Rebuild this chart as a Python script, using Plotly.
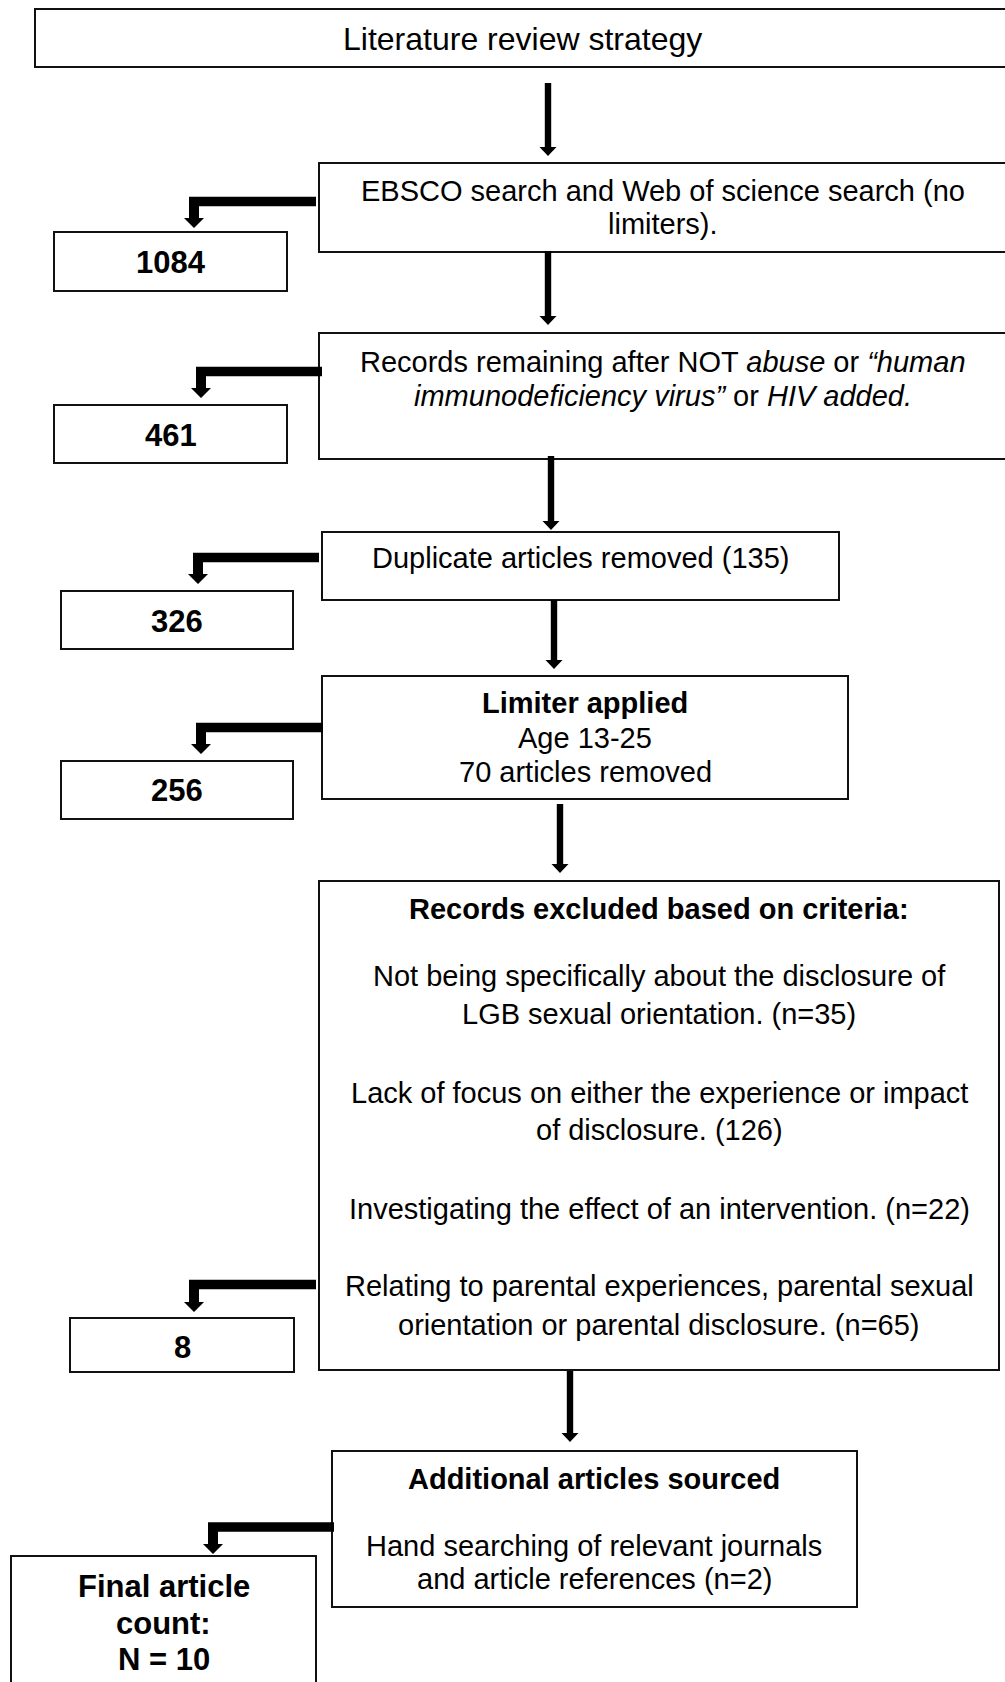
import plotly.graph_objects as go

# ---------------- data (text content and counts) ----------------
title_text = "Literature review strategy"
search_lines = ["EBSCO search and Web of science search (no", "limiters)."]
filter_lines = ["Records remaining after NOT <i>abuse</i> or <i>\u201chuman</i>",
                "<i>immunodeficiency virus\u201d</i> or <i>HIV added.</i>"]
duplicate_lines = ["Duplicate articles removed (135)"]
limiter_lines = ["<b>Limiter applied</b>", "Age 13-25", "70 articles removed"]
criteria_lines = ["<b>Records excluded based on criteria:</b>",
                  "Not being specifically about the disclosure of",
                  "LGB sexual orientation. (n=35)",
                  "Lack of focus on either the experience or impact",
                  "of disclosure. (126)",
                  "Investigating the effect of an intervention. (n=22)",
                  "Relating to parental experiences, parental sexual",
                  "orientation or parental disclosure. (n=65)"]
additional_lines = ["<b>Additional articles sourced</b>",
                    "Hand searching of relevant journals",
                    "and article references (n=2)"]
final_lines = ["<b>Final article</b>", "<b>count:</b>", "<b>N = 10</b>"]
remaining_counts = [1084, 461, 326, 256, 8]

# ---------------- layout geometry (pixels, y downward) ----------------
W, H = 1005, 1682
FONT = "Liberation Sans, Arial, sans-serif"

# main boxes: x0, y0, x1, y1
main_boxes = [
    (35, 9, 1012, 67),
    (319, 163, 1007, 252),
    (319, 333, 1007, 459),
    (322, 532, 839, 600),
    (322, 676, 848, 799),
    (319, 881, 999, 1370),
    (332, 1451, 857, 1607),
    (11, 1556, 316, 1695),
]
# count boxes (left column)
count_boxes = [
    (54, 232, 287, 291),
    (54, 405, 287, 463),
    (61, 591, 293, 649),
    (61, 761, 293, 819),
    (70, 1318, 294, 1372),
]
count_cap_centers = [262, 435, 621, 790, 1347]

# text blocks: (lines, centre x, baselines, font size)
text_blocks = [
    ([title_text], 522, [50], 32),
    (search_lines, 663, [201, 234], 29),
    (filter_lines, 663, [372, 406], 29),
    (duplicate_lines, 580, [568], 29),
    (limiter_lines, 585, [713, 748, 782], 29),
    (criteria_lines, 659, [919, 986, 1024, 1103, 1140, 1219, 1296, 1335], 29),
    (additional_lines, 594, [1489, 1556, 1589], 29),
    (final_lines, 163.5, [1597, 1634, 1670], 31),
]

# vertical arrows: x, y_start, y_tip
down_arrows = [
    (548, 83, 156),
    (548, 251, 325),
    (551, 456, 530),
    (554, 600, 669),
    (560, 804, 873),
    (570, 1371, 1442),
]
# elbow arrows: x_start (box edge), y_centre of bar, x of drop, y_tip
elbow_arrows = [
    (316, 201.5, 194, 228),
    (322, 371.5, 201, 398),
    (319, 557.5, 198, 584),
    (323, 727.5, 201, 754),
    (316, 1284.5, 194, 1312),
    (334, 1527, 213, 1554),
]

shapes = []
for (x0, y0, x1, y1) in main_boxes + count_boxes:
    shapes.append(dict(type="rect", xref="x", yref="y", x0=x0, y0=y0, x1=x1, y1=y1,
                       line=dict(color="#111111", width=2), fillcolor="rgba(0,0,0,0)",
                       layer="above"))

SH = 3.2   # half shaft width
HH = 8.5   # half head width
HL = 9     # head length
for (x, ys, yt) in down_arrows:
    p = (f"M{x-SH},{ys} L{x+SH},{ys} L{x+SH},{yt-HL} L{x+HH},{yt-HL} L{x},{yt} "
         f"L{x-HH},{yt-HL} L{x-SH},{yt-HL} Z")
    shapes.append(dict(type="path", xref="x", yref="y", path=p, fillcolor="black",
                       line=dict(width=0)))

BT = 4.7   # half bar thickness
VW = 5     # half vertical width
EH = 10    # half head width
EL = 10    # head length
for (xs, yc, xv, yt) in elbow_arrows:
    p = (f"M{xs},{yc-BT} L{xv-VW},{yc-BT} L{xv-VW},{yt-EL} L{xv-EH},{yt-EL} L{xv},{yt} "
         f"L{xv+EH},{yt-EL} L{xv+VW},{yt-EL} L{xv+VW},{yc+BT} L{xs},{yc+BT} Z")
    shapes.append(dict(type="path", xref="x", yref="y", path=p, fillcolor="black",
                       line=dict(width=0)))

annotations = []
for lines, cx, baselines, fs in text_blocks:
    for line, bl in zip(lines, baselines):
        annotations.append(dict(x=cx, y=bl - 0.35 * fs, xref="x", yref="y", text=line,
                                showarrow=False, xanchor="center", yanchor="middle",
                                font=dict(family=FONT, size=fs, color="black")))

for (x0, y0, x1, y1), n, cy in zip(count_boxes, remaining_counts, count_cap_centers):
    annotations.append(dict(x=(x0 + x1) / 2, y=cy, xref="x", yref="y",
                            text=f"<b>{n}</b>", showarrow=False,
                            xanchor="center", yanchor="middle",
                            font=dict(family=FONT, size=31, color="black")))

fig = go.Figure()
fig.update_layout(
    width=W, height=H,
    margin=dict(l=0, r=0, t=0, b=0),
    paper_bgcolor="white", plot_bgcolor="white",
    xaxis=dict(range=[0, W], visible=False, fixedrange=True),
    yaxis=dict(range=[H, 0], visible=False, fixedrange=True),
    shapes=shapes, annotations=annotations, showlegend=False,
)
fig.write_html("out.html",
               post_script="document.body.style.margin='0px';"
                           "document.body.style.overflow='hidden';",
               config={"displayModeBar": False})
